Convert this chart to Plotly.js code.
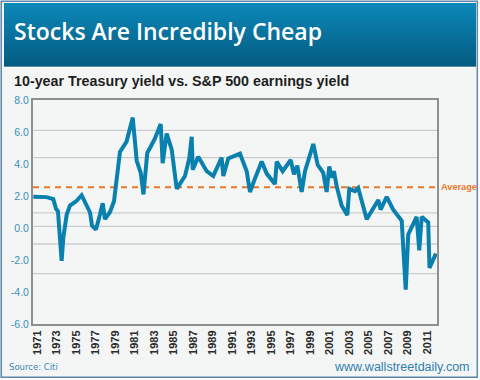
<!DOCTYPE html>
<html>
<head>
<meta charset="utf-8">
<script src="https://cdn.plot.ly/plotly-3.0.1.min.js"></script>
<style>
  html, body { margin: 0; padding: 0; background: #ffffff; }
  #chart { width: 480px; height: 380px; }
</style>
</head>
<body>
<div id="chart"></div>
<script>
// ---- Data ----
const years = [
  1970.62, 1971.99, 1972.67, 1972.95, 1973.15, 1973.53, 1973.70, 1974.05, 1974.38, 1975.07,
  1975.58, 1976.10, 1976.44, 1976.64, 1977.05, 1977.46, 1977.74, 1977.97, 1978.49, 1978.90,
  1979.17, 1979.51, 1980.19, 1980.82, 1981.23, 1981.64, 1981.92, 1982.13, 1982.31, 1982.59,
  1983.10, 1983.69, 1983.89, 1984.30, 1984.82, 1985.33, 1985.84, 1986.18, 1986.62, 1986.87,
  1986.97, 1987.54, 1988.41, 1989.08, 1989.94, 1990.11, 1990.62, 1991.82, 1992.51, 1992.85,
  1993.36, 1994.05, 1994.56, 1995.24, 1995.41, 1995.59, 1996.20, 1997.02, 1997.36, 1997.70,
  1998.15, 1998.49, 1999.34, 1999.79, 2000.36, 2000.71, 2000.98, 2001.23, 2001.46, 2001.74,
  2002.25, 2002.83, 2003.03, 2003.62, 2003.95, 2004.82, 2006.01, 2006.25, 2006.87, 2007.54,
  2008.41, 2008.82, 2009.08, 2009.94, 2010.21, 2010.46, 2011.13, 2011.26, 2011.92
];
const yieldGap = [
  1.95, 1.93, 1.80, 1.20, 1.05, -2.05, -0.60, 0.84, 1.40, 1.70,
  2.05, 1.45, 0.97, 0.15, -0.10, 0.84, 1.55, 0.55, 1.00, 1.67,
  3.10, 4.75, 5.40, 6.90, 4.20, 3.45, 2.10, 3.60, 4.70, 5.00,
  5.60, 6.50, 4.05, 5.90, 4.90, 2.45, 3.00, 3.25, 4.35, 5.70,
  3.65, 4.45, 3.55, 3.25, 4.40, 3.25, 4.35, 4.65, 3.55, 2.25,
  3.10, 4.15, 3.40, 2.85, 2.75, 4.15, 3.55, 4.25, 3.35, 3.90,
  2.25, 3.55, 5.25, 3.95, 3.45, 2.25, 3.85, 3.15, 3.55, 2.60,
  1.40, 0.80, 2.45, 2.30, 2.50, 0.55, 1.75, 1.15, 1.95, 1.15,
  0.45, -3.85, -0.40, 0.70, -1.40, 0.70, 0.35, -2.50, -1.60
];
const averageYield = [2.55];
const xTickYears = [1971, 1973, 1975, 1977, 1979, 1981, 1983, 1985, 1987, 1989, 1991,
                    1993, 1995, 1997, 1999, 2001, 2003, 2005, 2007, 2009, 2011];
const yTickValues = [-6, -4, -2, 0, 2, 4, 6, 8];
const titleText = "Stocks Are Incredibly Cheap";
const subtitleText = "10-year Treasury yield vs. S&P 500 earnings yield";
const averageLabel = "Average";
const sourceText = "Source: Citi";
const siteText = "www.wallstreetdaily.com";

// ---- Layout helpers (figure pixel -> paper fraction; margins are zero) ----
const W = 480, H = 380;
const px = v => v / W;
const py = v => 1 - v / H;
const plotL = px(33), plotR = px(437);

const shapes = [];
// outer frame / body background
shapes.push({type: 'rect', xref: 'paper', yref: 'paper', layer: 'below',
  x0: px(1.2), x1: px(477.3), y0: py(377.3), y1: py(1.2),
  fillcolor: '#f4f6f6', line: {color: '#5c86aa', width: 1.5}});
// header gradient: stacked bands, each reaching the header bottom (no seams)
const gradTop = [12, 136, 184], gradBot = [5, 92, 130];
const hTop = 3, hBot = 66.5, nBands = 32;
for (let i = 0; i < nBands; i++) {
  const t = i / (nBands - 1);
  const c = gradTop.map((v, k) => Math.round(v + (gradBot[k] - v) * t));
  const ya = hTop + (hBot - hTop) * i / nBands;
  shapes.push({type: 'rect', xref: 'paper', yref: 'paper', layer: 'below',
    x0: px(4), x1: px(476), y0: py(hBot), y1: py(ya),
    fillcolor: 'rgb(' + c.join(',') + ')', line: {width: 0}});
}
// thin white divider under the header
shapes.push({type: 'line', xref: 'paper', yref: 'paper', layer: 'below',
  x0: px(2), x1: px(476.5), y0: py(67.2), y1: py(67.2),
  line: {color: '#ffffff', width: 1}});
// horizontal gridlines (irregular as in the original)
[6.1, 4.4, 0.95, 0.1, -1.0, -2.85].forEach(g => {
  shapes.push({type: 'line', xref: 'paper', yref: 'y', layer: 'below',
    x0: plotL, x1: plotR, y0: g, y1: g, line: {color: '#c9cccc', width: 1.3}});
});
// average dashed line
shapes.push({type: 'line', xref: 'paper', yref: 'y', layer: 'below',
  x0: plotL, x1: plotR, y0: averageYield[0], y1: averageYield[0],
  line: {color: '#e8782a', width: 2, dash: '6px,5px'}});

const annotations = [
  {text: titleText, xref: 'paper', yref: 'paper', x: px(12), y: py(31), xanchor: 'left', yanchor: 'middle',
   showarrow: false, font: {family: 'Open Sans', size: 23, color: '#ffffff', weight: 600}},
  {text: subtitleText, xref: 'paper', yref: 'paper', x: px(12), y: py(81), xanchor: 'left', yanchor: 'middle',
   showarrow: false, font: {family: 'Liberation Sans', size: 14.3, color: '#1e1e1e', weight: 'bold'}},
  {text: averageLabel, xref: 'paper', yref: 'y', x: plotR, y: averageYield[0], xanchor: 'left', yanchor: 'middle',
   xshift: 2, showarrow: false, font: {family: 'Liberation Sans', size: 9.2, color: '#e8782a', weight: 'bold'}},
  {text: sourceText, xref: 'paper', yref: 'paper', x: px(7), y: py(367), xanchor: 'left', yanchor: 'middle',
   showarrow: false, font: {family: 'DejaVu Sans', size: 8.5, color: '#3a86b8'}},
  {text: siteText, xref: 'paper', yref: 'paper', x: px(472), y: py(367), xanchor: 'right', yanchor: 'middle',
   showarrow: false, font: {family: 'Liberation Sans', size: 12.5, color: '#2f7eae'}}
];

const trace = {
  x: years, y: yieldGap, type: 'scatter', mode: 'lines',
  line: {color: '#0a80ae', width: 4}, hoverinfo: 'skip'
};

const layout = {
  width: W, height: H,
  margin: {l: 0, r: 0, t: 0, b: 0, pad: 0},
  paper_bgcolor: '#ffffff',
  plot_bgcolor: '#f4f6f6',
  showlegend: false,
  xaxis: {
    domain: [plotL, plotR],
    range: [1970.59, 2012.03],
    tickmode: 'array', tickvals: xTickYears, ticktext: xTickYears.map(String),
    tickangle: -90, ticks: '', ticklen: 0,
    tickfont: {family: 'Liberation Sans', size: 11, color: '#2b2b2b', weight: 'bold'},
    showgrid: false, zeroline: false,
    showline: true, mirror: true, linecolor: '#8f8f8f', linewidth: 2,
    fixedrange: true, automargin: false
  },
  yaxis: {
    domain: [1 - 324 / H, 1 - 100 / H],
    range: [-6, 8],
    tickmode: 'array', tickvals: yTickValues, ticktext: yTickValues.map(v => v.toFixed(1)),
    ticks: '', ticklen: 0,
    tickfont: {family: 'Liberation Sans', size: 10.5, color: '#3a8fc0'},
    showgrid: false, zeroline: false,
    showline: true, mirror: true, linecolor: '#8f8f8f', linewidth: 2,
    fixedrange: true, automargin: false
  },
  shapes: shapes,
  annotations: annotations
};

Plotly.newPlot('chart', [trace], layout, {staticPlot: true, displayModeBar: false});
</script>
</body>
</html>
